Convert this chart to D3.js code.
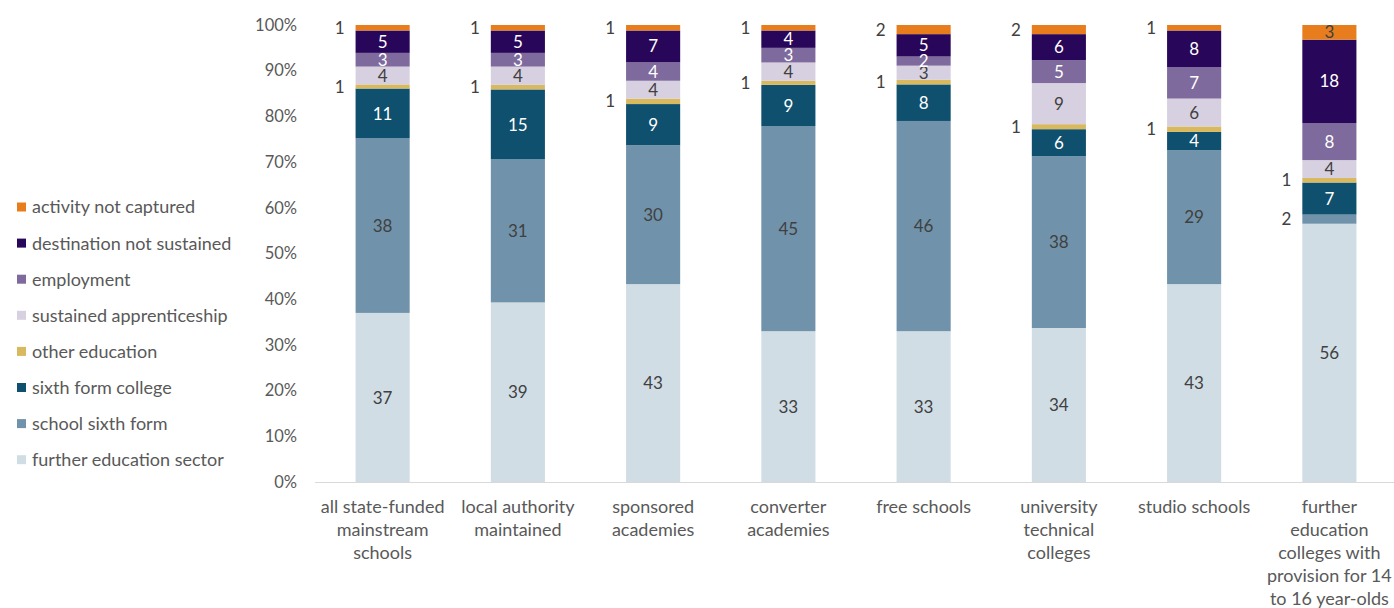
<!DOCTYPE html>
<html>
<head>
<meta charset="utf-8">
<script src="https://cdn.jsdelivr.net/npm/d3@7"></script>
<style>
  html, body { margin: 0; padding: 0; background: #fff; }
  svg { display: block; font-family: Lato, "Liberation Sans", sans-serif; }
</style>
</head>
<body>
<svg id="chart" width="1394" height="608"></svg>
<script>
// ---- data ----
const categories = [
  "all state-funded\nmainstream\nschools",
  "local authority\nmaintained",
  "sponsored\nacademies",
  "converter\nacademies",
  "free schools",
  "university\ntechnical\ncolleges",
  "studio schools",
  "further\neducation\ncolleges with\nprovision for 14\nto 16 year-olds"
];
// series listed bottom to top
const seriesNames = [
  "further education sector",
  "school sixth form",
  "sixth form college",
  "other education",
  "sustained apprenticeship",
  "employment",
  "destination not sustained",
  "activity not captured"
];
const furtherEducationSector = [37.0, 39.3, 43.3, 33.0, 33.0, 33.7, 43.3, 56.4];
const schoolSixthForm        = [38.2, 31.3, 30.4, 44.9, 46.0, 37.6, 29.3, 2.0];
const sixthFormCollege       = [10.9, 15.3, 9.0, 9.0, 8.0, 5.9, 4.0, 7.0];
const otherEducation         = [0.9, 1.0, 1.2, 0.9, 1.0, 1.1, 1.2, 1.0];
const sustainedApprenticeship= [3.9, 4.0, 3.9, 4.0, 3.1, 9.0, 6.1, 3.9];
const employment             = [3.0, 3.0, 4.1, 3.2, 2.0, 5.0, 6.9, 8.1];
const destinationNotSustained= [4.9, 4.9, 6.9, 3.8, 4.9, 5.7, 8.0, 18.2];
const activityNotCaptured    = [1.2, 1.2, 1.2, 1.2, 2.0, 2.0, 1.2, 3.2];
const yTicks = [0, 10, 20, 30, 40, 50, 60, 70, 80, 90, 100];

const seriesValues = [furtherEducationSector, schoolSixthForm, sixthFormCollege, otherEducation,
  sustainedApprenticeship, employment, destinationNotSustained, activityNotCaptured];
const colors = ["#D0DDE5", "#7093AB", "#10506F", "#D9B95F", "#D7D0E0", "#7E6A9C", "#280659", "#E87D1E"];
const labelColors = ["#404040", "#404040", "#ffffff", "#404040", "#404040", "#ffffff", "#ffffff", "#404040"];

// ---- build table ----
const table = categories.map((c, i) => {
  const row = { category: c };
  seriesNames.forEach((s, j) => row[s] = seriesValues[j][i]);
  return row;
});

const svg = d3.select("#chart");
const plotTop = 25, plotBottom = 482;

const x = d3.scaleBand().domain(categories).range([315, 1397]).paddingInner(0.6).paddingOuter(0.3);
const y = d3.scaleLinear().domain([0, 1]).range([plotBottom, plotTop]);

const stack = d3.stack().keys(seriesNames).offset(d3.stackOffsetExpand);
const stacked = stack(table);

const g = svg.append("g");

// bars
const layers = g.selectAll("g.layer").data(stacked).join("g")
  .attr("class", "layer")
  .attr("fill", (d, i) => colors[i]);
layers.selectAll("rect").data(d => d).join("rect")
  .attr("x", d => x(d.data.category))
  .attr("width", x.bandwidth())
  .attr("y", d => y(d[1]))
  .attr("height", d => y(d[0]) - y(d[1]));

// data labels
stacked.forEach((layer, i) => {
  const key = seriesNames[i];
  layer.forEach(d => {
    const v = d.data[key];
    const cy = (y(d[0]) + y(d[1])) / 2;
    const outside = v < 2.5 && key !== "employment";
    g.append("text")
      .attr("x", outside ? x(d.data.category) - 11 : x(d.data.category) + x.bandwidth() / 2)
      .attr("y", cy)
      .attr("dy", "0.36em")
      .attr("text-anchor", outside ? "end" : "middle")
      .attr("fill", outside ? "#404040" : labelColors[i])
      .attr("font-size", 17)
      .text(d3.format(".0f")(v));
  });
});

// y axis
const yAxis = d3.axisLeft(y).tickValues(yTicks.map(t => t / 100))
  .tickFormat(d => d3.format(".0f")(d * 100) + "%").tickSize(0).tickPadding(0);
const ya = svg.append("g").attr("transform", "translate(297,0)").call(yAxis);
ya.select(".domain").remove();
ya.selectAll("text").attr("font-size", 16.5).attr("fill", "#595959")
  .attr("font-family", "Lato, 'Liberation Sans', sans-serif");

// x axis line
svg.append("line").attr("x1", 315).attr("x2", 1394).attr("y1", plotBottom + 0.5).attr("y2", plotBottom + 0.5)
  .attr("stroke", "#D9D9D9").attr("stroke-width", 1);

// x labels
const xl = svg.append("g");
categories.forEach(c => {
  const lines = c.split("\n");
  const t = xl.append("text")
    .attr("x", x(c) + x.bandwidth() / 2)
    .attr("y", 507)
    .attr("text-anchor", "middle")
    .attr("fill", "#595959")
    .attr("font-size", 18);
  lines.forEach((ln, k) => {
    t.append("tspan").attr("x", x(c) + x.bandwidth() / 2).attr("dy", k === 0 ? "0.36em" : 23).text(ln);
  });
});

// legend (top to bottom: reversed series)
const legendItems = seriesNames.map((s, i) => ({ name: s, color: colors[i] })).reverse();
const lg = svg.append("g");
legendItems.forEach((it, k) => {
  const cy = 207 + k * 36.1;
  lg.append("rect").attr("x", 17).attr("y", cy - 4.5).attr("width", 9).attr("height", 9).attr("fill", it.color);
  lg.append("text").attr("x", 32).attr("y", cy).attr("dy", "0.36em")
    .attr("fill", "#595959").attr("font-size", 18).text(it.name);
});
</script>
</body>
</html>
